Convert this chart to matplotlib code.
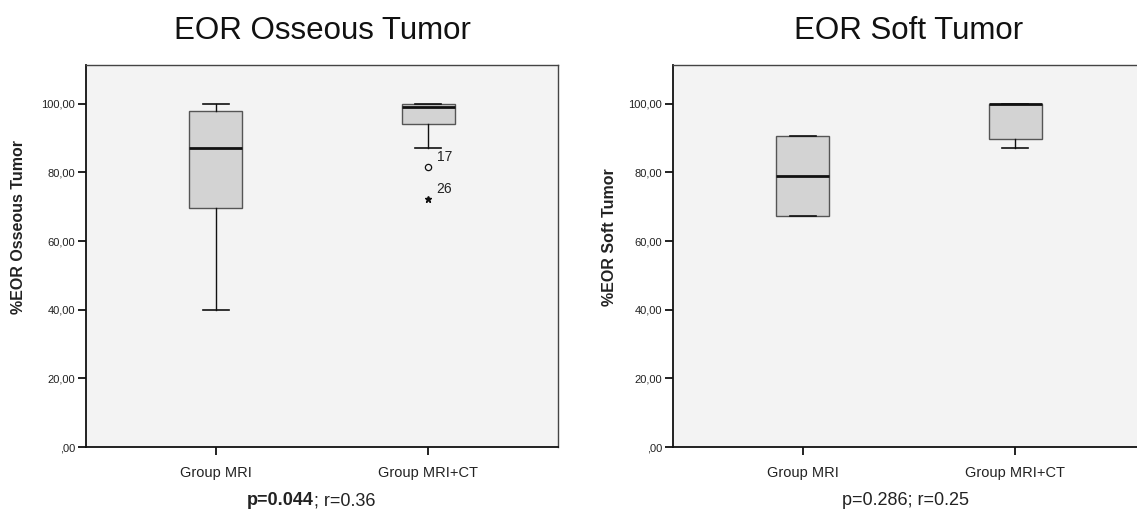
import matplotlib
matplotlib.use("Agg")
import matplotlib.pyplot as plt

# ---- data ----
groups = ["Group MRI", "Group MRI+CT"]
yticks = [0, 20, 40, 60, 80, 100]
ytick_labels = [",00", "20,00", "40,00", "60,00", "80,00", "100,00"]

oss_whislo = [40.0, 87.2]
oss_q1 = [69.5, 94.0]
oss_med = [87.2, 99.1]
oss_q3 = [97.9, 100.0]
oss_whishi = [100.0, 100.0]
oss_out_circle = [81.6]
oss_out_star = [72.4]
oss_out_labels = ["17", "26"]

soft_whislo = [67.3, 87.0]
soft_q1 = [67.3, 89.7]
soft_med = [78.9, 100.0]
soft_q3 = [90.6, 100.0]
soft_whishi = [90.6, 100.0]

titles = ["EOR Osseous Tumor", "EOR Soft Tumor"]
ylabels = ["%EOR Osseous Tumor", "%EOR Soft Tumor"]
caption_left_bold = "p=0.044"
caption_left_rest = "; r=0.36"
caption_right = "p=0.286; r=0.25"

W, H = 1137, 511
plt.rcParams["font.family"] = ["Liberation Sans", "DejaVu Sans"]
fig = plt.figure(figsize=(W / 100, H / 100), dpi=100)

def px(x0, y0, w, h):
    return [x0 / W, 1 - (y0 + h) / H, w / W, h / H]

ax1 = fig.add_axes(px(86, 65, 472, 382))
ax2 = fig.add_axes(px(673, 65, 472, 382))

def make_stats(lo, q1, med, q3, hi):
    return [dict(whislo=a, q1=b, med=c, q3=d, whishi=e, fliers=[])
            for a, b, c, d, e in zip(lo, q1, med, q3, hi)]

def style(ax, stats, title):
    ax.set_facecolor("#f3f3f3")
    ax.bxp(stats, positions=[1, 2], widths=0.25, patch_artist=True,
           boxprops=dict(facecolor="#d3d3d3", edgecolor="#555555", linewidth=1.0),
           medianprops=dict(color="#111111", linewidth=2.0),
           whiskerprops=dict(color="#111111", linewidth=1.0),
           capprops=dict(color="#111111", linewidth=1.2),
           capwidths=0.125, showfliers=False)
    ax.set_xlim(0.389, 2.611)
    ax.set_ylim(0, 111.3)
    ax.set_yticks(yticks)
    ax.set_yticklabels(ytick_labels)
    ax.set_xticks([1, 2])
    ax.set_xticklabels(groups)
    ax.tick_params(axis="y", direction="out", length=6, width=1.3, pad=2,
                   labelsize=8, labelcolor="#222222", color="#111111")
    ax.tick_params(axis="x", direction="out", length=6, width=1.3, pad=8,
                   labelsize=10.5, labelcolor="#222222", color="#111111")
    for s in ["left", "bottom"]:
        ax.spines[s].set_color("#111111")
        ax.spines[s].set_linewidth(1.3)
    for s in ["top", "right"]:
        ax.spines[s].set_color("#444444")
        ax.spines[s].set_linewidth(1.0)
    ax.set_title(title, fontsize=22.5, pad=19, color="#111111")

style(ax1, make_stats(oss_whislo, oss_q1, oss_med, oss_q3, oss_whishi), titles[0])
style(ax2, make_stats(soft_whislo, soft_q1, soft_med, soft_q3, soft_whishi), titles[1])

# outliers
ax1.plot([2] * len(oss_out_circle), oss_out_circle, linestyle="none", marker="o",
         markersize=4.5, markerfacecolor="none", markeredgecolor="#111111", markeredgewidth=0.9)
ax1.plot([2] * len(oss_out_star), oss_out_star, linestyle="none", marker="*",
         markersize=4.5, color="#111111")
for v, lab in zip(oss_out_circle + oss_out_star, oss_out_labels):
    ax1.annotate(lab, (2, v), xytext=(6, 2), textcoords="offset points",
                 fontsize=10, color="#222222", va="bottom", ha="left")

# y labels
fig.text(19 / W, 1 - 227 / H, ylabels[0], rotation=90, fontsize=11.5,
         fontweight="bold", ha="center", va="center", color="#222222")
fig.text(609 / W, 1 - 237 / H, ylabels[1], rotation=90, fontsize=11.5,
         fontweight="bold", ha="center", va="center", color="#222222")

# bottom captions
t1 = fig.text(247 / W, 1 - 509 / H, caption_left_bold, fontsize=13, fontweight="bold",
              ha="left", va="bottom", color="#222222")
ax1.annotate(caption_left_rest, xy=(1, 0), xycoords=t1, fontsize=13,
             ha="left", va="bottom", color="#222222", annotation_clip=False)
fig.text(905 / W, 1 - 509 / H, caption_right, fontsize=13,
         ha="center", va="bottom", color="#222222")

fig.savefig("out.png", dpi=100, facecolor="white")
